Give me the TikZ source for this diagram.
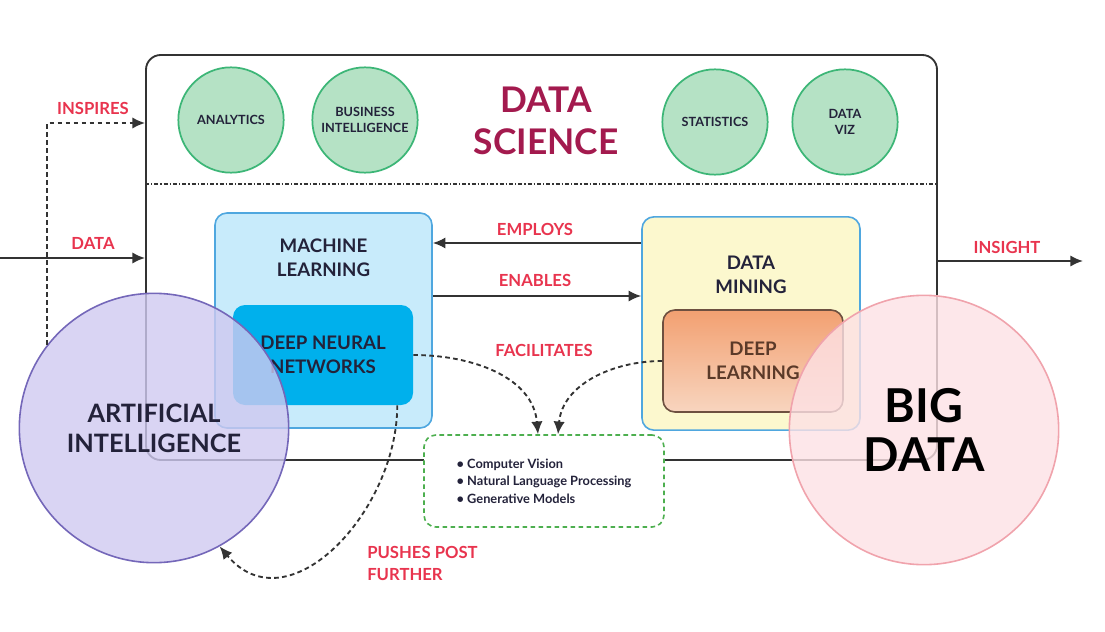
\documentclass[tikz,border=0pt]{standalone}
\usepackage{fontspec}
\setmainfont{Lato}
\usepackage{tikz}
\usepackage{xcolor}
\usetikzlibrary{arrows.meta,positioning,fit,calc}

\definecolor{redlbl}{HTML}{E8344E}
\definecolor{sciencered}{HTML}{A31A4E}
\definecolor{inktext}{HTML}{23223A}
\definecolor{leafgreen}{HTML}{B5E2C5}
\definecolor{leafedge}{HTML}{3DB677}
\definecolor{mlfill}{HTML}{C8EBFB}
\definecolor{boxedge}{HTML}{4FA7DF}
\definecolor{dnnfill}{HTML}{00B0EC}
\definecolor{dmfill}{HTML}{FCF8CE}
\definecolor{dltop}{HTML}{F2A071}
\definecolor{dlbot}{HTML}{F8D5BF}
\definecolor{dledge}{HTML}{6E5040}
\definecolor{dltext}{HTML}{5B3A29}
\definecolor{aifill}{HTML}{CFC9F0}
\definecolor{aiedge}{HTML}{7467B9}
\definecolor{bdfill}{HTML}{FDE1E5}
\definecolor{bdedge}{HTML}{F0A3AC}
\definecolor{exedge}{HTML}{4DAF4F}
\definecolor{lineink}{HTML}{333333}

\begin{document}
\begin{tikzpicture}[x=0.75pt,y=-0.75pt,>={Latex[length=9.5pt,width=8.5pt]},
  tag/.style={text=redlbl,inner sep=0pt,font=\bfseries\fontsize{12.5}{16.5}\selectfont},
  leaf/.style={circle,draw=leafedge,line width=1.3pt,fill=leafgreen,minimum size=79pt,inner sep=0pt,align=center,text=inktext,font=\bfseries\fontsize{9.5}{12}\selectfont},
  field/.style={rounded corners=9pt,line width=1.2pt,draw=boxedge,inner sep=0pt},
  core/.style={rounded corners=9pt,inner sep=0pt,align=center,text=inktext,font=\bfseries\fontsize{14}{18}\selectfont},
  blob/.style={circle,inner sep=0pt,line width=1.2pt,fill opacity=0.8,text opacity=1,align=center,minimum size=202pt},
  link/.style={->,line width=1.5pt,draw=lineink},
  hint/.style={->,line width=1.4pt,draw=lineink,dash pattern=on 3.5pt off 2.5pt}
]
  \useasboundingbox (0,0) rectangle (1105,631);
  % data science frame
  \node[draw=lineink,line width=1.4pt,rounded corners=11pt,inner sep=0pt,fit={(146,55) (937,460)}] (ds) {};
  \draw[line width=1.1pt,draw=lineink,dash pattern=on 3pt off 1.5pt on 1pt off 1.5pt] (ds.west |- 0,184) -- (ds.east |- 0,184);
  \node[leaf] (analytics) at (231,120) {ANALYTICS};
  \node[leaf] (bi) at (365,120) {BUSINESS\\INTELLIGENCE};
  \node[leaf] (stats) at (715,122) {STATISTICS};
  \node[leaf] (viz) at (845,122) {DATA\\VIZ};
  \node[text=sciencered,align=center,font=\bfseries\fontsize{26.5}{31}\selectfont] (dstitle) at (546,121) {DATA\\SCIENCE};
  % machine learning
  \node[field,fill=mlfill,minimum width=162.75pt,minimum height=161.25pt,
        label={[core,anchor=north,yshift=-20pt]north:{MACHINE\\LEARNING}}] (ml) at (323.5,320.5) {};
  \node[core,fill=dnnfill,minimum width=135pt,minimum height=75pt] (dnn) at (323,355) {DEEP NEURAL\\NETWORKS};
  % data mining
  \node[field,fill=dmfill,minimum width=163.5pt,minimum height=160pt,
        label={[core,anchor=north,yshift=-30pt]north:{DATA\\MINING}}] (dm) at (751,323.5) {};
  \node[core,draw=dledge,line width=1.2pt,top color=dltop,bottom color=dlbot,text=dltext,minimum width=135pt,minimum height=76.5pt] (dl) at (753,361) {DEEP\\LEARNING};
  % links between the two
  \draw[link] (dm.west |- 0,243) -- (ml.east |- 0,243);
  \node[tag] (employs) at (535,229) {EMPLOYS};
  \draw[link] (ml.east |- 0,296) -- (dm.west |- 0,296);
  \node[tag] (enables) at (535,280) {ENABLES};
  % applications
  \node[draw=exedge,line width=1.2pt,dash pattern=on 3.5pt off 2.5pt,rounded corners=9pt,fill=white,minimum width=180pt,minimum height=69pt,
        align=left,text=inktext,font=\bfseries\fontsize{9.6}{13}\selectfont] (ex) at (544,481)
        {\textbullet\ Computer Vision\\\textbullet\ Natural Language Processing\\\textbullet\ Generative Models};
  \draw[hint] (dnn.east) to[out=0,in=95] (ex.north -| 538,0);
  \draw[hint] (dl.west) to[out=180,in=85] (ex.north -| 558,0);
  \node[tag] (facilitates) at (544,350) {FACILITATES};
  % the two fields outside
  \node[blob,fill=aifill,draw=aiedge,text=inktext,font=\bfseries\fontsize{19}{22.5}\selectfont] (ai) at (154,428) {ARTIFICIAL\\INTELLIGENCE};
  \node[blob,fill=bdfill,draw=bdedge,text=black,font=\bfseries\fontsize{35}{37}\selectfont] (bd) at (924,430) {BIG\\DATA};
  % in and out
  \coordinate (datain) at (0,258);
  \draw[link] (datain) -- (datain -| ds.west);
  \node[tag] (datatag) at (93,243) {DATA};
  \coordinate (insightout) at (1083,261);
  \draw[link] (insightout -| ds.east) -- (insightout);
  \node[tag] (insighttag) at (1007,247) {INSIGHT};
  \draw[hint] (ai.142) |- (ds.west |- 0,123);
  \node[tag] (inspires) at (93,108) {INSPIRES};
  \draw[hint] ([xshift=-12pt]dnn.south east) to[out=-90,in=-50,looseness=1.2] (ai.-61);
  \node[tag,align=left,anchor=north west] (pushes) at (367,546) {PUSHES POST\\FURTHER};
\end{tikzpicture}
\end{document}
